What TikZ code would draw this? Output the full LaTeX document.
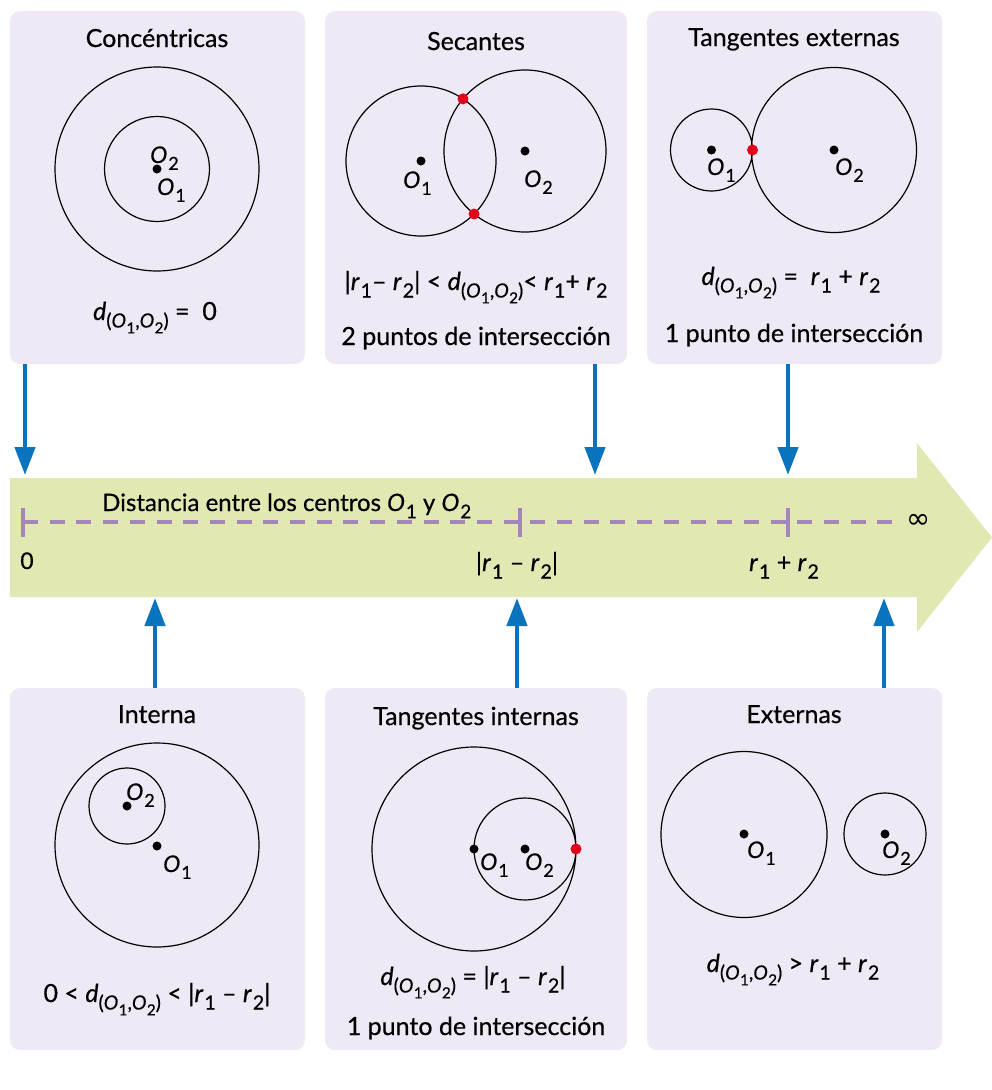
\documentclass[tikz,border=0pt]{standalone}
\usepackage{fontspec}
\setmainfont{Lato}[FakeBold=0.5]
\newfontfamily\symfont{DejaVu Sans}
\usetikzlibrary{arrows.meta,calc,positioning,intersections}

\definecolor{panelfill}{HTML}{EEE9F4}
\definecolor{barfill}{HTML}{E2E8B2}
\definecolor{axispurple}{HTML}{A585BE}
\definecolor{arrowblue}{HTML}{0A73BE}
\definecolor{dotred}{HTML}{E3001B}

\newcommand{\lsub}[1]{\raisebox{-0.3em}{\scalebox{0.78}{#1}}}
\newcommand{\Ocen}[1]{\textit{O}\kern1pt\lsub{#1}}
\newcommand{\rad}[1]{\textit{r}\kern1pt\lsub{#1}}
\newcommand{\dist}{\textit{d}\lsub{(\textit{O}\kern0.5pt\lsub{1},\textit{O}\kern0.5pt\lsub{2})}}

\tikzset{
    panel/.style={rectangle, rounded corners=10pt, fill=panelfill, inner sep=0pt,
                  minimum width=295pt, minimum height=353pt},
    heading/.style={anchor=base, inner sep=0pt, font=\fontsize{25}{30}\selectfont},
    formula/.style={anchor=base, inner sep=0pt, font=\fontsize{25}{30}\selectfont},
    cenlab/.style={anchor=base west, inner sep=0pt, font=\fontsize{23}{28}\selectfont},
    circ/.style={line width=1.2pt},
    toblue/.style={arrowblue, line width=4.5pt, -{Triangle[width=20pt,length=28pt]}},
    dashaxis/.style={axispurple, line width=4pt, dash pattern=on 15pt off 11.7pt},
    axistick/.style={axispurple, line width=4pt}
}

\begin{document}
\begin{tikzpicture}[x=1pt, y=-1pt]
  \useasboundingbox (0,0) rectangle (992,1090);

  % panels
  \node[panel]                                           (conc)   at (157.5,187.5) {};
  \node[panel, minimum width=302pt]                      (sec)    at (476,187.5)   {};
  \node[panel]                                           (tanext) at (794.5,187.5) {};
  \node[panel, minimum height=362pt]                     (inter)  at (157.5,869)   {};
  \node[panel, minimum width=302pt, minimum height=362pt] (tanint) at (476,869)     {};
  \node[panel, minimum height=362pt]                     (ext)    at (794.5,869)   {};

  % distance axis
  \fill[barfill] (10,478) -- (917,478) -- (917,443) -- (992,537.5)
                 -- (917,632) -- (917,597) -- (10,597) -- cycle;
  \coordinate (zero) at (23,522);
  \coordinate (dif)  at (520,522);
  \coordinate (sum)  at (788,522);
  \coordinate (axend) at (897,522);
  \draw[dashaxis] (zero) -- (axend);
  \foreach \t in {zero,dif,sum}
    \draw[axistick] ($(\t)+(0,-14)$) -- ($(\t)+(0,15)$);

  \node[cenlab, font=\fontsize{24}{28}\selectfont] (axtitle) at (102,511)
       {Distancia entre los centros \Ocen1 y \Ocen2};
  \node[formula, font=\fontsize{23}{28}\selectfont] (lzero) at (27,569) {0};
  \node[formula] (ldif) at (517,571) {|\rad1 – \rad2|};
  \node[formula] (lsum) at (784,571) {\rad1 + \rad2};
  \node[inner sep=0pt, font=\symfont\fontsize{29}{32}\selectfont] (inf) at (919,521) {∞};

  % arrows to the axis
  \coordinate (a1) at (25,475);
  \coordinate (a2) at (595,475);
  \coordinate (a3) at (788,475);
  \coordinate (a4) at (155,598);
  \coordinate (a5) at (517,598);
  \coordinate (a6) at (884,598);
  \draw[toblue] (conc.south -| a1)   -- (a1);
  \draw[toblue] (sec.south -| a2)    -- (a2);
  \draw[toblue] (tanext.south -| a3) -- (a3);
  \draw[toblue] (inter.north -| a4)  -- (a4);
  \draw[toblue] (tanint.north -| a5) -- (a5);
  \draw[toblue] (ext.north -| a6)    -- (a6);

  % concentricas
  \node[heading] (tconc) at (157,47) {Concéntricas};
  \draw[circ] (157,169) circle (102) (157,169) circle (52.5);
  \fill (157,169) circle (4.5);
  \node[cenlab] (oconc2) at (150,163) {\Ocen2};
  \node[cenlab] (oconc1) at (157,195) {\Ocen1};
  \node[formula] (fconc) at (155,320) {\dist{} = \ 0};

  % secantes
  \node[heading] (tsec) at (476,50) {Secantes};
  \draw[circ, name path=sec1] (421,161) circle (75);
  \draw[circ, name path=sec2] (525,151) circle (81);
  \fill (421,161) circle (4.5) (525,151) circle (4.5);
  \fill[dotred, name intersections={of=sec1 and sec2}]
       (intersection-1) circle (5.5) (intersection-2) circle (5.5);
  \node[cenlab] (osec1) at (403,188) {\Ocen1};
  \node[cenlab] (osec2) at (524,187) {\Ocen2};
  \node[formula] (fsec) at (476,290) {|\rad1– \rad2| < \dist< \rad1+ \rad2};
  \node[heading] (psec) at (476,345) {2 puntos de intersección};

  % tangentes externas
  \node[heading] (ttext) at (794,46) {Tangentes externas};
  \draw[circ] (711.5,150) circle (41) (834,150) circle (82.5);
  \fill (711.5,150) circle (4.5) (834,150) circle (4.5);
  \fill[dotred] (752.5,150) circle (5.5);
  \node[cenlab] (otext1) at (707,175) {\Ocen1};
  \node[cenlab] (otext2) at (835,175) {\Ocen2};
  \node[formula] (ftext) at (791,285) {\dist{} = \ \rad1 + \rad2};
  \node[heading] (ptext) at (794,342) {1 punto de intersección};

  % interna
  \node[heading] (tint) at (157,723) {Interna};
  \draw[circ] (157,845) circle (102) (127,806) circle (38);
  \fill (127,806) circle (4.5) (157,846) circle (4.5);
  \node[cenlab] (oint2) at (126,800) {\Ocen2};
  \node[cenlab] (oint1) at (163,872) {\Ocen1};
  \node[formula] (fint) at (157,1002) {0 < \dist{} < |\rad1 – \rad2|};

  % tangentes internas
  \node[heading] (ttint) at (476,725) {Tangentes internas};
  \draw[circ] (474,849) circle (102) (525,849) circle (51);
  \fill (474,849) circle (4.5) (525,849) circle (4.5);
  \fill[dotred] (576,849) circle (5.5);
  \node[cenlab] (otint1) at (480,870) {\Ocen1};
  \node[cenlab] (otint2) at (525,870) {\Ocen2};
  \node[formula] (ftint) at (473,985) {\dist{} = |\rad1 – \rad2|};
  \node[heading] (ptint) at (476,1035) {1 punto de intersección};

  % externas
  \node[heading] (text) at (794,723) {Externas};
  \draw[circ] (744,834.5) circle (83) (885,834) circle (41);
  \fill (744,834) circle (4.5) (885,834) circle (4.5);
  \node[cenlab] (oext1) at (747,858) {\Ocen1};
  \node[cenlab] (oext2) at (882,858) {\Ocen2};
  \node[formula] (fext) at (793,972) {\dist{} > \rad1 + \rad2};
\end{tikzpicture}
\end{document}
